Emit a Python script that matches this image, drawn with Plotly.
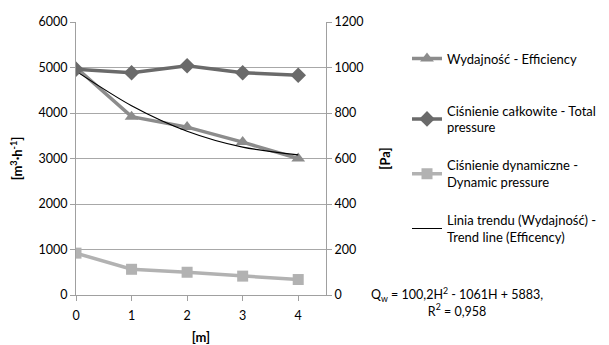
import plotly.graph_objects as go

x_m = [0, 1, 2, 3, 4]
efficiency = [5000, 3920, 3690, 3360, 3000]          # m3/h (left axis)
total_pressure = [992, 977, 1008, 977, 966]          # Pa (right axis)
dynamic_pressure = [184, 113, 100, 83, 68]           # Pa (right axis)
trend_efficiency = [4920, 4160, 3600, 3250, 3080]    # m3/h

left_ticks = [0, 1000, 2000, 3000, 4000, 5000, 6000]
right_ticks = [0, 200, 400, 600, 800, 1000, 1200]

FONT = "Lato"
OFF = 8  # page body margin
W, H = 609 - OFF, 345 - OFF
L, R, T, B = 76 - OFF, 283, 22 - OFF, 50
pw, ph = W - L - R, H - T - B

def sx(p):  # screen x px -> paper
    return (p - OFF - L) / pw

def sy(p):  # screen y px -> paper
    return (H - B - (p - OFF)) / ph

def cx(p):  # screen x px -> container
    return (p - OFF) / W

def cy(p):  # screen y px -> container
    return 1 - (p - OFF) / H

fig = go.Figure()
fig.add_trace(go.Scatter(
    x=x_m, y=efficiency, name="Wydajność - Efficiency", mode="lines+markers",
    line=dict(color="#8c8c8c", width=3.5),
    marker=dict(symbol="triangle-up", size=12, color="#8c8c8c"),
    legend="legend", yaxis="y"))
fig.add_trace(go.Scatter(
    x=x_m, y=total_pressure, name="Ciśnienie całkowite - Total<br>pressure", mode="lines+markers",
    line=dict(color="#6a6a6a", width=3.5),
    marker=dict(symbol="diamond", size=12, color="#6a6a6a"),
    legend="legend2", legendgroup="b", yaxis="y2"))
fig.add_trace(go.Scatter(
    x=x_m, y=dynamic_pressure, name="Ciśnienie dynamiczne -<br>Dynamic pressure", mode="lines+markers",
    line=dict(color="#b2b2b2", width=3.5),
    marker=dict(symbol="square", size=11, color="#b2b2b2"),
    legend="legend2", legendgroup="c", yaxis="y2"))
fig.add_trace(go.Scatter(
    x=x_m, y=trend_efficiency, name="Linia trendu (Wydajność) -<br>Trend line (Efficency)", mode="lines",
    line=dict(color="#000000", width=1.2, shape="spline", smoothing=0.8),
    legend="legend2", legendgroup="d", yaxis="y"))

legend_common = dict(xref="container", yref="container", xanchor="left", yanchor="top",
                     font=dict(family=FONT, size=13, color="#000000"),
                     itemwidth=30, bgcolor="rgba(0,0,0,0)", maxheight=1)

fig.update_layout(
    width=W, height=H,
    margin=dict(l=L, r=R, t=T, b=B, autoexpand=False),
    paper_bgcolor="white", plot_bgcolor="white",
    font=dict(family=FONT, size=12.5, color="#000000"),
    showlegend=True,
    legend=dict(x=cx(407), y=cy(43.5), **legend_common),
    legend2=dict(x=cx(407), y=cy(95.5), tracegroupgap=18, **legend_common),
    xaxis=dict(range=[0, 4.5], tickvals=x_m, ticktext=[str(v) for v in x_m],
               showgrid=False, zeroline=False, showline=True, linecolor="#a0a0a0", linewidth=1,
               ticks="outside", ticklen=5, tickcolor="#a0a0a0", ticklabelstandoff=4,
               title=dict(text="<b>[m]</b>", standoff=10, font=dict(size=13))),
    yaxis=dict(range=[0, 6000], tickvals=left_ticks, showgrid=True, gridcolor="#a8a8a8", gridwidth=1,
               zeroline=False, showline=True, linecolor="#a0a0a0", linewidth=1,
               ticks="outside", ticklen=5, tickcolor="#a0a0a0",
               title=dict(text="<b>[m<sup>3</sup>·h<sup>-1</sup>]</b>", standoff=14, font=dict(size=13))),
    yaxis2=dict(range=[0, 1200], tickvals=right_ticks, overlaying="y", side="right",
                showgrid=False, zeroline=False, showline=True, linecolor="#a0a0a0", linewidth=1,
                ticks="outside", ticklen=5, tickcolor="#a0a0a0",
                title=dict(text="<b>[Pa]</b>", standoff=18, font=dict(size=13))),
)

fig.add_annotation(
    xref="paper", yref="paper", x=sx(457), y=sy(302), xanchor="center", yanchor="middle",
    text="Q<sub>w</sub> = 100,2H<sup>2</sup> - 1061H + 5883,<br>R<sup>2</sup> = 0,958",
    showarrow=False, align="center", font=dict(family=FONT, size=12.5, color="#000000"))

fig.write_html("out.html")
